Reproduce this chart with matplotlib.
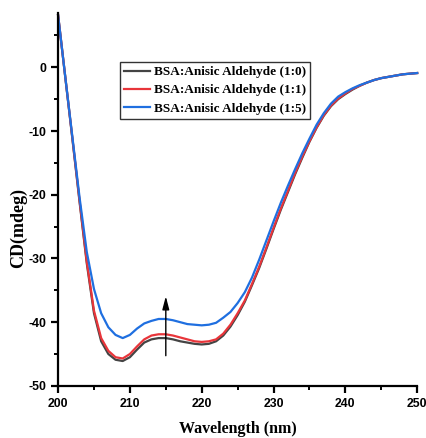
import numpy as np
import matplotlib
matplotlib.use("Agg")
import matplotlib.pyplot as plt
from matplotlib.ticker import MultipleLocator

plt.rcParams["axes.unicode_minus"] = False

# wavelength grid (nm) and CD signal (mdeg)
wavelength = np.arange(200, 251)

cd_1_0 = [8.2, -1.5, -11.3, -21.2, -30.8, -38.6, -43.0, -45.0, -45.9, -46.1,
          -45.5, -44.3, -43.2, -42.7, -42.5, -42.5, -42.7, -43.0, -43.2, -43.4,
          -43.5, -43.4, -43.0, -42.1, -40.7, -38.9, -36.8, -34.2, -31.5, -28.5,
          -25.4, -22.4, -19.6, -16.8, -14.2, -11.7, -9.5, -7.6, -6.1, -5.0,
          -4.2, -3.5, -2.9, -2.4, -2.0, -1.7, -1.5, -1.3, -1.1, -1.0, -0.9]

cd_1_1 = [8.2, -1.5, -11.2, -21.0, -30.5, -38.2, -42.5, -44.5, -45.5, -45.7,
          -45.0, -43.8, -42.7, -42.1, -41.9, -41.9, -42.1, -42.4, -42.7, -43.0,
          -43.1, -43.0, -42.7, -41.8, -40.4, -38.6, -36.6, -34.0, -31.3, -28.3,
          -25.2, -22.2, -19.4, -16.6, -14.0, -11.6, -9.4, -7.5, -6.0, -4.9,
          -4.1, -3.4, -2.9, -2.4, -2.0, -1.7, -1.5, -1.3, -1.1, -1.0, -0.9]

cd_1_5 = [8.2, -1.5, -11.0, -20.5, -29.0, -34.8, -38.6, -40.8, -42.0, -42.5,
          -42.0, -41.0, -40.2, -39.8, -39.5, -39.5, -39.7, -40.0, -40.3, -40.4,
          -40.5, -40.4, -40.1, -39.3, -38.4, -37.0, -35.3, -33.0, -30.2, -27.2,
          -24.2, -21.3, -18.6, -16.0, -13.5, -11.2, -9.0, -7.2, -5.7, -4.6,
          -3.9, -3.3, -2.8, -2.4, -2.0, -1.7, -1.5, -1.3, -1.1, -1.0, -0.9]

labels = ["BSA:Anisic Aldehyde (1:0)", "BSA:Anisic Aldehyde (1:1)",
          "BSA:Anisic Aldehyde (1:5)"]
colors = ["#444444", "#e8353a", "#1f6fe0"]

fig = plt.figure(figsize=(4.27, 4.38), dpi=100)
ax = fig.add_axes([0.136, 0.119, 0.841, 0.851])

for y, lab, col in zip([cd_1_0, cd_1_1, cd_1_5], labels, colors):
    ax.plot(wavelength, y, color=col, linewidth=1.6, label=lab, clip_on=False)

# arrow showing increase with aldehyde
ax.annotate("", xy=(215, -35.5), xytext=(215, -45.7),
            arrowprops=dict(arrowstyle="-|>,head_length=0.65,head_width=0.17",
                            color="black", lw=1.0, mutation_scale=12))

ax.set_xlim(200, 250)
ax.set_ylim(-50, 8.5)
ax.xaxis.set_major_locator(MultipleLocator(10))
ax.xaxis.set_minor_locator(MultipleLocator(5))
ax.yaxis.set_major_locator(MultipleLocator(10))
ax.yaxis.set_minor_locator(MultipleLocator(5))
ax.set_yticks([0, -10, -20, -30, -40, -50])

for side in ("top", "right"):
    ax.spines[side].set_visible(False)
for side in ("left", "bottom"):
    ax.spines[side].set_linewidth(1.6)

ax.tick_params(which="major", direction="out", length=5, width=1.6,
               labelsize=8.8)
ax.tick_params(which="minor", direction="out", length=3, width=1.4)
for t in ax.get_xticklabels() + ax.get_yticklabels():
    t.set_fontweight("bold")
    t.set_family("Liberation Sans")

ax.set_xlabel("Wavelength (nm)", family="Liberation Serif",
              fontweight="bold", fontsize=11.5, labelpad=8)
# y label sits lower than the axis centre in the original
fig.text(18 / 427, 1 - 228 / 438, "CD(mdeg)", family="Liberation Serif",
         fontweight="bold", fontsize=13, rotation=90,
         ha="center", va="center")

leg = ax.legend(loc="upper left", bbox_to_anchor=(120 / 427, 1 - 62 / 438),
                bbox_transform=fig.transFigure,
                prop={"family": "Liberation Serif", "weight": "bold",
                      "size": 9.5},
                frameon=True, fancybox=False, edgecolor="black",
                handlelength=2.0, handletextpad=0.25, borderpad=0.3,
                labelspacing=0.45, borderaxespad=0)
leg.get_frame().set_linewidth(1.0)

fig.savefig("out.png", dpi=100)
